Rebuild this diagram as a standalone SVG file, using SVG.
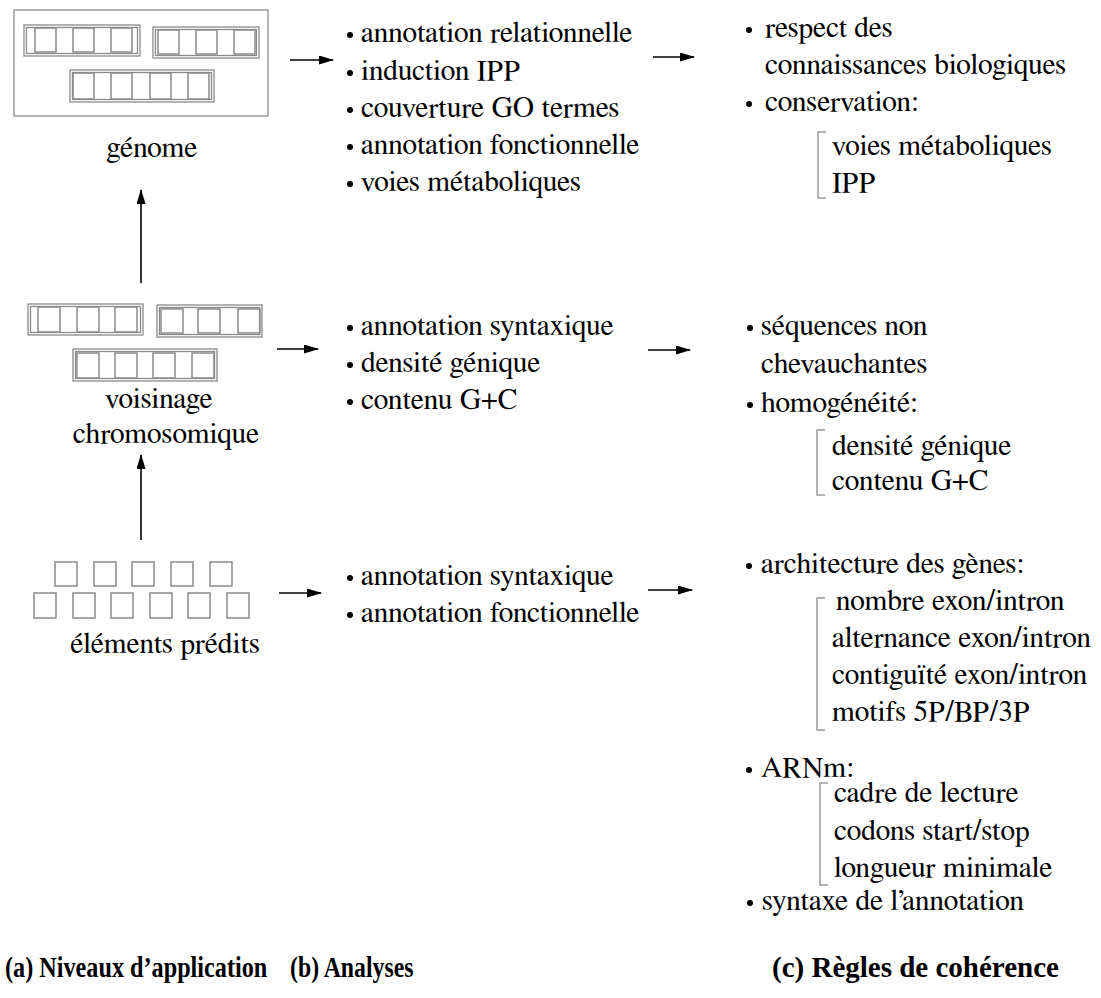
<svg xmlns="http://www.w3.org/2000/svg" width="1101" height="998" viewBox="0 0 1101 998">
<defs>
<style>
text{font-family:"Nimbus Roman","FreeSerif","Liberation Serif",serif;font-size:29.5px;fill:#000}
.cap{font-family:"Liberation Serif","Nimbus Roman",serif;font-weight:bold;font-size:29px}
.sq{fill:none;stroke:#8a8a8a;stroke-width:1.5}
.grp{fill:none;stroke:#8a8a8a;stroke-width:1.3}
.brk{fill:none;stroke:#9a9a9a;stroke-width:1.5}
.arr{stroke:#000;stroke-width:1.6;fill:none;marker-end:url(#ah)}
.mid{text-anchor:middle}
</style>
<marker id="ah" viewBox="0 0 15 9" refX="14" refY="4.5" markerWidth="15" markerHeight="9" markerUnits="userSpaceOnUse" orient="auto">
<path d="M0,0 L15,4.5 L0,9 z" fill="#000"/>
</marker>
</defs>
<rect width="1101" height="998" fill="#fff"/>

<g id="genome">
<rect class="grp" x="14" y="10" width="254" height="106"/>
<rect class="grp" x="24" y="25" width="116" height="31"/>
<rect class="grp" x="26.5" y="27.5" width="111" height="26"/>
<rect class="sq" x="35" y="28" width="21" height="24"/>
<rect class="sq" x="73" y="28" width="21" height="24"/>
<rect class="sq" x="111" y="28" width="21" height="24"/>
<rect class="grp" x="153" y="27" width="106" height="31"/>
<rect class="grp" x="155.5" y="29.5" width="101" height="26"/>
<rect class="sq" x="158" y="30" width="21" height="24"/>
<rect class="sq" x="196" y="30" width="21" height="24"/>
<rect class="sq" x="234" y="30" width="21" height="24"/>
<rect class="grp" x="70" y="70" width="144" height="32"/>
<rect class="grp" x="72.5" y="72.5" width="139" height="27"/>
<rect class="sq" x="73" y="73" width="21" height="26"/>
<rect class="sq" x="111" y="73" width="21" height="26"/>
<rect class="sq" x="150" y="73" width="21" height="26"/>
<rect class="sq" x="188" y="73" width="21" height="26"/>
<text class="mid" x="152" y="157">génome</text>
</g>

<g id="voisinage">
<rect class="grp" x="28" y="304" width="115" height="31"/>
<rect class="grp" x="30.5" y="306.5" width="110" height="26"/>
<rect class="sq" x="38" y="307" width="22" height="25"/>
<rect class="sq" x="77" y="307" width="22" height="25"/>
<rect class="sq" x="115" y="307" width="22" height="25"/>
<rect class="grp" x="157" y="305" width="105" height="32"/>
<rect class="grp" x="159.5" y="307.5" width="100" height="27"/>
<rect class="sq" x="161" y="309" width="22" height="24"/>
<rect class="sq" x="198" y="309" width="22" height="24"/>
<rect class="sq" x="238" y="309" width="22" height="24"/>
<rect class="grp" x="73" y="349" width="144" height="32"/>
<rect class="grp" x="75.5" y="351.5" width="139" height="27"/>
<rect class="sq" x="77" y="353" width="22" height="25"/>
<rect class="sq" x="115" y="353" width="22" height="25"/>
<rect class="sq" x="153" y="353" width="22" height="25"/>
<rect class="sq" x="192" y="353" width="22" height="25"/>
<text class="mid" x="159" y="408">voisinage</text>
<text class="mid" x="166" y="443">chromosomique</text>
</g>

<g id="elements">
<rect class="sq" x="55" y="562" width="22" height="24"/>
<rect class="sq" x="94" y="562" width="22" height="24"/>
<rect class="sq" x="132" y="562" width="22" height="24"/>
<rect class="sq" x="171" y="562" width="22" height="24"/>
<rect class="sq" x="210" y="562" width="22" height="24"/>
<rect class="sq" x="34" y="593" width="22" height="25"/>
<rect class="sq" x="73" y="593" width="22" height="25"/>
<rect class="sq" x="111" y="593" width="22" height="25"/>
<rect class="sq" x="150" y="593" width="22" height="25"/>
<rect class="sq" x="188" y="593" width="22" height="25"/>
<rect class="sq" x="227" y="593" width="22" height="25"/>
<text class="mid" x="165" y="653">éléments prédits</text>
</g>

<g id="analyses1">
<circle cx="350" cy="35" r="3"/><text x="361" y="42">annotation relationnelle</text>
<circle cx="350" cy="73" r="3"/><text x="361" y="80">induction IPP</text>
<circle cx="350" cy="110" r="3"/><text x="361" y="117">couverture GO termes</text>
<circle cx="350" cy="147" r="3"/><text x="361" y="154">annotation fonctionnelle</text>
<circle cx="350" cy="184" r="3"/><text x="361" y="191">voies métaboliques</text>
</g>

<g id="analyses2">
<circle cx="350" cy="328" r="3"/><text x="361" y="335">annotation syntaxique</text>
<circle cx="350" cy="365" r="3"/><text x="361" y="372">densité génique</text>
<circle cx="350" cy="402" r="3"/><text x="361" y="409">contenu G+C</text>
</g>

<g id="analyses3">
<circle cx="350" cy="578" r="3"/><text x="361" y="585">annotation syntaxique</text>
<circle cx="350" cy="615" r="3"/><text x="361" y="622">annotation fonctionnelle</text>
</g>

<g id="regles1">
<circle cx="749" cy="30" r="3"/><text x="765" y="37">respect des</text>
<text x="765" y="74">connaissances biologiques</text>
<circle cx="749" cy="104" r="3"/><text x="765" y="111">conservation:</text>
<path class="brk" d="M826,132 H818 V198 H826"/>
<text x="832" y="155">voies métaboliques</text>
<text x="832" y="192">IPP</text>
</g>

<g id="regles2">
<circle cx="750" cy="328" r="3"/><text x="761" y="335">séquences non</text>
<text x="761" y="373">chevauchantes</text>
<circle cx="750" cy="405" r="3"/><text x="761" y="412">homogénéité:</text>
<path class="brk" d="M825,430 H817 V495 H825"/>
<text x="832" y="455">densité génique</text>
<text x="832" y="490">contenu G+C</text>
</g>

<g id="regles3">
<circle cx="749" cy="566" r="3"/><text x="761" y="573">architecture des gènes:</text>
<path class="brk" d="M825,598 H817 V730 H825"/>
<text x="836" y="610">nombre exon/intron</text>
<text x="832" y="647">alternance exon/intron</text>
<text x="832" y="684">contiguïté exon/intron</text>
<text x="832" y="721">motifs 5P/BP/3P</text>
<circle cx="749" cy="770" r="3"/><text x="761" y="777">ARNm:</text>
<path class="brk" d="M828,783 H820 V885 H828"/>
<text x="834" y="802">cadre de lecture</text>
<text x="834" y="840">codons start/stop</text>
<text x="834" y="877">longueur minimale</text>
<circle cx="750" cy="903" r="3"/><text x="762" y="910">syntaxe de l’annotation</text>
</g>

<g id="captions">
<text class="cap" transform="translate(5,977) scale(0.835,1)">(a) Niveaux d’application</text>
<text class="cap" transform="translate(290,977) scale(0.82,1)">(b) Analyses</text>
<text class="cap" x="772" y="977">(c) Règles de cohérence</text>
</g>

<g id="connectors">
<line class="arr" x1="290" y1="60" x2="333" y2="60"/>
<line class="arr" x1="653" y1="57" x2="694" y2="57"/>
<line class="arr" x1="277" y1="349" x2="318" y2="349"/>
<line class="arr" x1="648" y1="350" x2="690" y2="350"/>
<line class="arr" x1="279" y1="593" x2="321" y2="593"/>
<line class="arr" x1="648" y1="590" x2="692" y2="590"/>
<line class="arr" x1="141" y1="283" x2="141" y2="190"/>
<line class="arr" x1="141" y1="540" x2="141" y2="455"/>
</g>
</svg>
